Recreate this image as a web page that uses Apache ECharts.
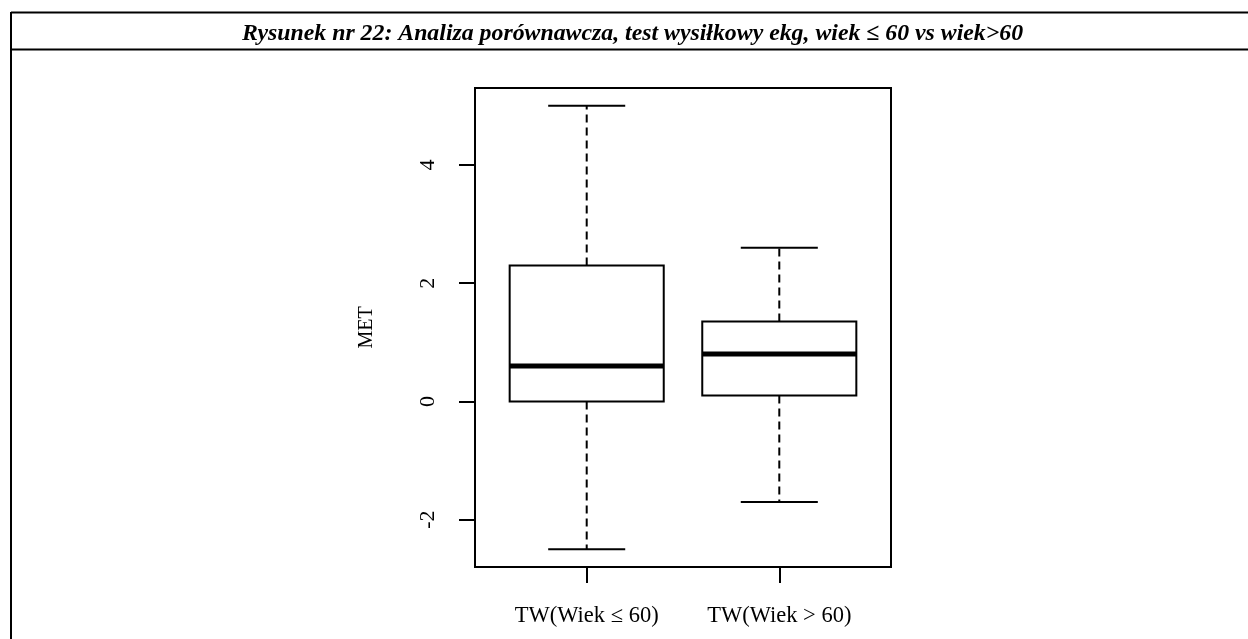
<!DOCTYPE html>
<html>
<head>
<meta charset="utf-8">
<script src="https://cdn.jsdelivr.net/npm/echarts@6/dist/echarts.min.js"></script>
<style>
html,body{margin:0;padding:0;background:#fff;}
#chart{width:1248px;height:639px;}
</style>
</head>
<body>
<div id="chart"></div>
<script>
const titleText = 'Rysunek nr 22: Analiza porównawcza, test wysiłkowy ekg, wiek ≤ 60 vs wiek>60';
const categories = ['TW(Wiek ≤ 60)', 'TW(Wiek > 60)'];
const whiskerLow = [-2.5, -1.7];
const q1 = [0, 0.1];
const median = [0.6, 0.8];
const q3 = [2.3, 1.35];
const whiskerHigh = [5, 2.6];
const yTicks = [-2, 0, 2, 4];
const xTicks = [1, 2];
const yName = 'MET';

const boxData = categories.map((c, i) => [i + 1, whiskerLow[i], q1[i], median[i], q3[i], whiskerHigh[i]]);

const chart = echarts.init(document.getElementById('chart'), null, {renderer: 'canvas'});
const serif = '"Liberation Serif", "DejaVu Serif", serif';

function renderItem(params, api) {
  const x = api.value(0);
  const lo = api.value(1), b1 = api.value(2), md = api.value(3), b3 = api.value(4), hi = api.value(5);
  const hw = 0.4, cw = 0.2;
  const pTL = api.coord([x - hw, b3]);
  const pBR = api.coord([x + hw, b1]);
  const mL = api.coord([x - hw, md]), mR = api.coord([x + hw, md]);
  const c3 = api.coord([x, b3]), cHi = api.coord([x, hi]);
  const c1 = api.coord([x, b1]), cLo = api.coord([x, lo]);
  const hiL = api.coord([x - cw, hi]), hiR = api.coord([x + cw, hi]);
  const loL = api.coord([x - cw, lo]), loR = api.coord([x + cw, lo]);
  const solid = {stroke: '#000', lineWidth: 2, fill: null};
  const dashed = {stroke: '#000', lineWidth: 2, lineDash: [8, 5], fill: null};
  return {
    type: 'group',
    children: [
      {type: 'line', shape: {x1: c3[0], y1: c3[1], x2: cHi[0], y2: cHi[1]}, style: dashed},
      {type: 'line', shape: {x1: c1[0], y1: c1[1], x2: cLo[0], y2: cLo[1]}, style: dashed},
      {type: 'line', shape: {x1: hiL[0], y1: hiL[1], x2: hiR[0], y2: hiR[1]}, style: solid},
      {type: 'line', shape: {x1: loL[0], y1: loL[1], x2: loR[0], y2: loR[1]}, style: solid},
      {type: 'rect', shape: {x: pTL[0], y: pTL[1], width: pBR[0] - pTL[0], height: pBR[1] - pTL[1]},
        style: {stroke: '#000', lineWidth: 2, fill: '#fff'}},
      {type: 'line', shape: {x1: mL[0], y1: mL[1], x2: mR[0], y2: mR[1]}, style: {stroke: '#000', lineWidth: 5}}
    ]
  };
}

chart.setOption({
  animation: false,
  backgroundColor: '#fff',
  title: {
    text: titleText,
    left: 242,
    top: 22,
    padding: 0,
    textStyle: {fontFamily: serif, fontStyle: 'italic', fontWeight: 'bold', fontSize: 23.8, color: '#000'}
  },
  graphic: [
    {type: 'line', shape: {x1: 11, y1: 12.5, x2: 1248, y2: 12.5}, style: {stroke: '#000', lineWidth: 2}},
    {type: 'line', shape: {x1: 11, y1: 49.5, x2: 1248, y2: 49.5}, style: {stroke: '#000', lineWidth: 2}},
    {type: 'line', shape: {x1: 11, y1: 12, x2: 11, y2: 639}, style: {stroke: '#000', lineWidth: 2}}
  ],
  grid: {
    left: 475, right: 357, top: 88, bottom: 72,
    show: true, borderColor: '#000', borderWidth: 2, backgroundColor: 'transparent'
  },
  xAxis: {
    type: 'value', min: 0.42, max: 2.58,
    axisLine: {show: false, onZero: false},
    splitLine: {show: false},
    axisTick: {show: true, customValues: xTicks, length: 16, lineStyle: {color: '#000', width: 2}},
    axisLabel: {
      customValues: xTicks, margin: 38, color: '#000', fontFamily: serif, fontSize: 22.5,
      formatter: v => categories[Math.round(v) - 1]
    }
  },
  yAxis: {
    type: 'value', min: -2.8, max: 5.3,
    name: yName, nameLocation: 'middle', nameRotate: 90, nameGap: 98,
    nameTextStyle: {fontFamily: serif, fontSize: 20, color: '#000'},
    axisLine: {show: false, onZero: false},
    splitLine: {show: false},
    axisTick: {show: true, customValues: yTicks, length: 16, lineStyle: {color: '#000', width: 2}},
    axisLabel: {
      customValues: yTicks, rotate: 90, margin: 36, color: '#000', fontFamily: serif, fontSize: 22,
      formatter: v => String(v)
    }
  },
  series: [{
    type: 'custom',
    renderItem: renderItem,
    encode: {x: 0, y: [1, 2, 3, 4, 5]},
    data: boxData,
    clip: false
  }]
});
</script>
</body>
</html>
